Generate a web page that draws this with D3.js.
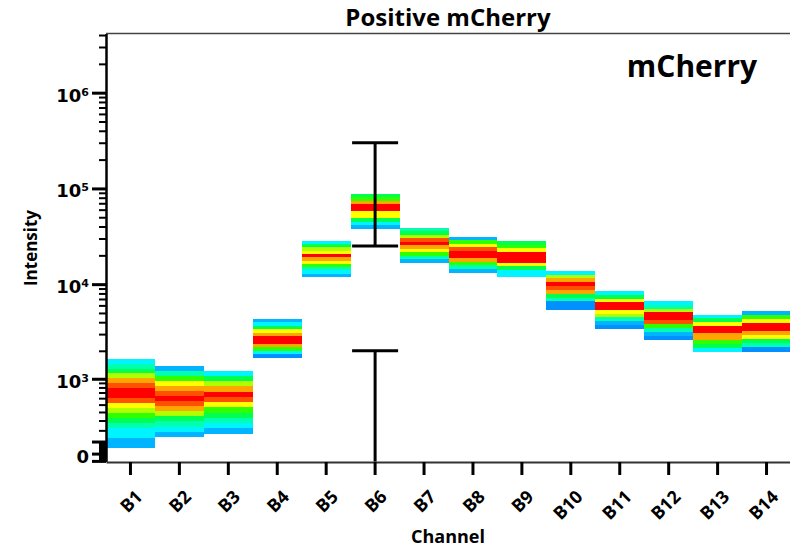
<!DOCTYPE html>
<html>
<head>
<meta charset="utf-8">
<script src="https://cdn.jsdelivr.net/npm/d3@7"></script>
<style>
  body { margin: 0; background: #fff; }
  svg { display: block; }
  text { font-family: "Open Sans", sans-serif; font-weight: bold; fill: #000; }
</style>
</head>
<body>
<svg id="chart" width="790" height="551"></svg>
<script>
// channel names on the x axis
const channels = ["B1", "B2", "B3", "B4", "B5", "B6", "B7", "B8", "B9", "B10", "B11", "B12", "B13", "B14"];

// upper and lower edge of each channel's population (intensity units)
const boxTop    = [1650, 1390, 1225, 4350, 28300, 88300, 39000, 31400, 28300, 13800, 8400, 6700, 4800, 5300];
const boxBottom = [49, 142, 169, 1690, 11900, 38000, 16800, 13200, 11900, 5480, 3450, 2630, 1970, 1970];

// density level of each slice, from top to bottom (0 = sparse, 10 = dense)
const density = [
  [2, 3, 4, 6, 8, 9, 10, 10, 9, 7, 6, 5, 4, 3, 2, 2, 1, 1],
  [1, 3, 5, 7, 8, 9, 10, 9, 8, 6, 4, 3, 2, 1],
  [2, 4, 6, 8, 10, 9, 7, 5, 4, 3, 2, 1],
  [1, 2, 4, 7, 8, 10, 10, 8, 5, 2, 0],
  [2, 4, 6, 7, 10, 8, 7, 5, 3, 2, 1],
  [4, 5, 8, 10, 10, 7, 7, 4, 2, 1],
  [3, 4, 6, 9, 10, 8, 7, 5, 3, 1],
  [1, 5, 7, 9, 10, 10, 8, 5, 3, 1],
  [4, 5, 7, 10, 10, 10, 7, 4, 2, 2],
  [2, 6, 8, 10, 9, 8, 4, 3, 0, 0],
  [2, 4, 7, 10, 10, 7, 6, 3, 1, 0],
  [2, 3, 6, 10, 10, 9, 5, 3, 1, 0],
  [2, 4, 7, 10, 10, 8, 8, 5, 4, 2],
  [1, 5, 7, 10, 10, 8, 7, 4, 3, 0]
];

// colour for each density level
const palette = ["#0090ff", "#00b4ff", "#00f4ff", "#00ffb0", "#00ff50", "#30ff00",
                 "#b0ff00", "#ffff00", "#ffa500", "#ff5000", "#ff0000"];

// y axis
const yMin = -65, yMax = 4.15e6, cofactor = 340;
const yTickValues = [0, 1e3, 1e4, 1e5, 1e6];
const yTickBase = ["0", "10", "10", "10", "10"];
const yTickSup = ["", "3", "4", "5", "6"];

// error bar on B6
const errChannel = "B6";
const errSegments = [[2.5e4, 3.0e5], [yMin, 2.0e3]];
const errCaps = [3.0e5, 2.5e4, 2.0e3];

const svg = d3.select("#chart");

const x = d3.scaleBand().domain(channels).range([106, 791]).padding(0);

// arcsinh display like the cytometry software, built on a linear scale
const tf = v => Math.asinh(v / cofactor);
const yT = d3.scaleLinear().domain([tf(yMin), tf(yMax)]).range([461.5, 33.5]);
const y = v => yT(tf(v));

const color = d3.scaleLinear().domain(d3.range(palette.length)).range(palette);

// density boxes //
const boxes = svg.append("g").attr("shape-rendering", "crispEdges");

channels.forEach((ch, i) => {
  const levels = density[i];
  const t0 = tf(boxTop[i]), t1 = tf(boxBottom[i]);
  const step = (t1 - t0) / levels.length;
  boxes.append("g").selectAll("rect")
    .data(levels)
    .join("rect")
    .attr("x", x(ch))
    .attr("width", x.bandwidth())
    .attr("y", (d, j) => yT(t0 + j * step))
    .attr("height", (d, j) => yT(t0 + (j + 1) * step) - yT(t0 + j * step) + 0.5)
    .attr("fill", d => color(d));
});

// top frame line
svg.append("line")
  .attr("x1", 106).attr("x2", 790)
  .attr("y1", 33.5).attr("y2", 33.5)
  .attr("stroke", "#444").attr("stroke-width", 1.5);

// y axis //
const minorTicks = [];
for (let e = 2; e <= 6; e++) {
  for (let m = 2; m <= 9; m++) {
    if (m * Math.pow(10, e) <= yMax) minorTicks.push(m * Math.pow(10, e));
  }
}
for (let v = -50; v <= 90; v += 10) if (v !== 0) minorTicks.push(v);

svg.append("g")
  .attr("transform", "translate(106,0)")
  .call(d3.axisLeft(yT).tickValues(minorTicks.map(tf)).tickSize(7).tickSizeOuter(0).tickFormat(""))
  .call(g => g.select(".domain").remove())
  .call(g => g.selectAll("line").attr("stroke", "#000").attr("stroke-width", 2));

const yAxis = svg.append("g")
  .attr("transform", "translate(106,0)")
  .call(d3.axisLeft(yT).tickValues([-60, 100].concat(yTickValues).map(tf))
    .tickSize(14).tickSizeOuter(0).tickPadding(4).tickFormat(""));

yAxis.select(".domain").attr("stroke", "#000").attr("stroke-width", 2.5);
yAxis.selectAll("line").attr("stroke", "#000").attr("stroke-width", 3);

yTickValues.forEach((v, i) => {
  const label = svg.append("text")
    .attr("x", 89)
    .attr("y", y(v) + 9)
    .attr("text-anchor", "end")
    .style("font-family", "'DejaVu Sans', sans-serif")
    .style("font-size", "18px");
  label.append("tspan").text(yTickBase[i]);
  if (yTickSup[i]) {
    label.append("tspan").attr("dy", "-0.55em").style("font-size", "11px").text(yTickSup[i]);
  }
});

// x axis //
const xAxis = svg.append("g")
  .attr("transform", "translate(0,462)")
  .call(d3.axisBottom(x).tickSize(13).tickSizeOuter(0));

xAxis.select(".domain").attr("stroke", "#333").attr("stroke-width", 2);
xAxis.selectAll("line").attr("stroke", "#000").attr("stroke-width", 3);
xAxis.selectAll("text")
  .attr("x", null).attr("y", null).attr("dy", null)
  .attr("transform", "translate(13,36) rotate(-45)")
  .attr("text-anchor", "end")
  .style("font-family", "'Open Sans', sans-serif")
  .style("font-size", "18px")
  .style("font-weight", "bold")
  .attr("fill", "#000");

// error bar //
const ex = x(errChannel) + x.bandwidth() / 2;
const err = svg.append("g").attr("stroke", "#000").attr("stroke-width", 3);

err.selectAll(".seg")
  .data(errSegments)
  .join("line")
  .attr("class", "seg")
  .attr("x1", ex).attr("x2", ex)
  .attr("y1", d => y(d[0]))
  .attr("y2", d => y(d[1]));

err.selectAll(".cap")
  .data(errCaps)
  .join("line")
  .attr("class", "cap")
  .attr("x1", ex - 23).attr("x2", ex + 23)
  .attr("y1", d => y(d)).attr("y2", d => y(d));

// titles //
svg.append("text")
  .attr("x", 448).attr("y", 26)
  .attr("text-anchor", "middle")
  .style("font-size", "24px")
  .text("Positive mCherry");

svg.append("text")
  .attr("x", 692).attr("y", 77)
  .attr("text-anchor", "middle")
  .style("font-size", "30px")
  .text("mCherry");

svg.append("text")
  .attr("x", 448).attr("y", 543)
  .attr("text-anchor", "middle")
  .style("font-size", "18px")
  .text("Channel");

svg.append("text")
  .attr("transform", "translate(37,248) rotate(-90)")
  .attr("text-anchor", "middle")
  .style("font-size", "17px")
  .text("Intensity");
</script>
</body>
</html>
